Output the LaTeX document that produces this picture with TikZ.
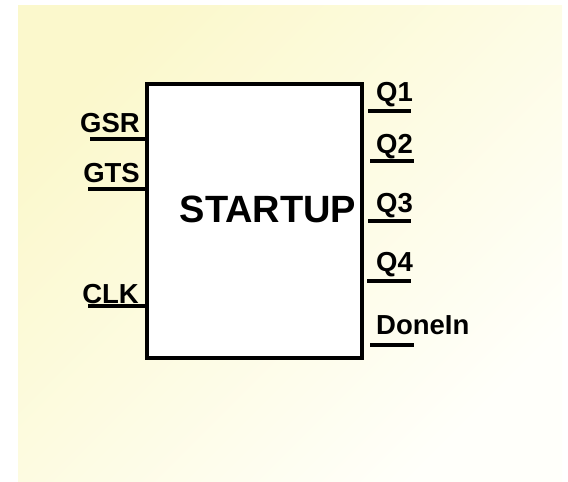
\documentclass[tikz,border=0pt]{standalone}
\usepackage{fontspec}
\setmainfont{Liberation Sans}
\usepackage{tikz}
\usetikzlibrary{positioning,calc}
\usepackage{xcolor}
\definecolor{bgyellow}{RGB}{251,248,204}
\definecolor{bgwhite}{RGB}{255,255,250}

\begin{document}
\begin{tikzpicture}[
  x=1pt, y=-1pt,
  block/.style={draw, line width=4.5pt, fill=white, minimum width=215pt, minimum height=274pt, inner sep=0pt},
  title/.style={font=\fontsize{38}{40}\selectfont\bfseries, inner sep=0pt},
  pin/.style={line width=4pt},
  pinl/.style={font=\fontsize{27.5}{30}\selectfont\bfseries, inner sep=0pt, anchor=base east},
  pinr/.style={font=\fontsize{27.5}{30}\selectfont\bfseries, inner sep=0pt, anchor=base west}
]
  \useasboundingbox (0,0) rectangle (568,482);
  \shade[top color=bgyellow, bottom color=bgwhite, shading angle=45] (18,5) rectangle (562,482);

  \node[block] (su) at (254.5,221) {};
  \node[title] (name) at ([xshift=13.5pt, yshift=12pt]su.center) {STARTUP};

  % inputs
  \coordinate (gsr) at (90,139);
  \coordinate (gts) at (88,189);
  \coordinate (clk) at (88,306);
  \draw[pin] (gsr) -- (gsr -| su.west);
  \draw[pin] (gts) -- (gts -| su.west);
  \draw[pin] (clk) -- (clk -| su.west);
  \node[pinl] (gsrlbl) at (140,132) {GSR};
  \node[pinl] (gtslbl) at (140,182) {GTS};
  \node[pinl] (clklbl) at (139,303) {CLK};

  % outputs
  \coordinate (q1a) at (368,111);  \coordinate (q1b) at (411,111);
  \coordinate (q2a) at (370,161);  \coordinate (q2b) at (414,161);
  \coordinate (q3a) at (368,221);  \coordinate (q3b) at (411,221);
  \coordinate (q4a) at (367,281);  \coordinate (q4b) at (411,281);
  \coordinate (dna) at (370,345);  \coordinate (dnb) at (414,345);
  \draw[pin] (q1a) -- (q1b);
  \draw[pin] (q2a) -- (q2b);
  \draw[pin] (q3a) -- (q3b);
  \draw[pin] (q4a) -- (q4b);
  \draw[pin] (dna) -- (dnb);
  \node[pinr] (q1lbl) at (376,101) {Q1};
  \node[pinr] (q2lbl) at (376,153) {Q2};
  \node[pinr] (q3lbl) at (376,212) {Q3};
  \node[pinr] (q4lbl) at (376,271) {Q4};
  \node[pinr] (dnlbl) at (376,334) {DoneIn};
\end{tikzpicture}
\end{document}
